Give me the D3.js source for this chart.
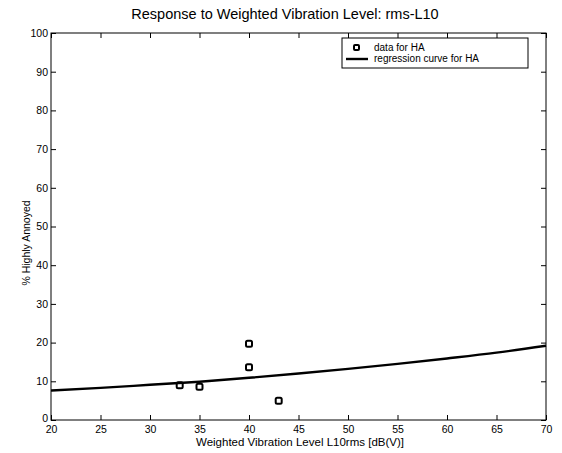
<!DOCTYPE html>
<html><head><meta charset="utf-8">
<script src="https://cdn.jsdelivr.net/npm/d3@7"></script>
<style>
html,body{margin:0;padding:0;background:#fff;}
svg{display:block;font-family:"Liberation Sans",Arial,sans-serif;}
</style></head>
<body>
<svg id="chart" width="562" height="453"></svg>
<script>
const title = "Response to Weighted Vibration Level: rms-L10";
const xLabel = "Weighted Vibration Level L10rms [dB(V)]";
const yLabel = "% Highly Annoyed";
const xTicks = [20,25,30,35,40,45,50,55,60,65,70];
const yTicks = [0,10,20,30,40,50,60,70,80,90,100];
// observed data for HA
const dataX = [33, 35, 40, 40, 43];
const dataY = [9.0, 8.6, 19.7, 13.6, 5.0];
// regression curve for HA
const curveX = [20,25,30,35,40,45,50,55,60,65,70];
const curveY = [7.6,8.3,9.1,9.9,10.9,12.0,13.2,14.5,15.9,17.4,19.2];
const legendLabels = ["data for HA","regression curve for HA"];

const svg = d3.select("#chart");
const m = {left:51, right:546, top:33, bottom:420};
const x = d3.scaleLinear().domain([20,70]).range([m.left,m.right]);
const y = d3.scaleLinear().domain([0,100]).range([m.bottom,m.top]);

svg.append("rect").attr("x",m.left).attr("y",m.top)
  .attr("width",m.right-m.left).attr("height",m.bottom-m.top)
  .attr("fill","none").attr("stroke","#000").attr("stroke-width",1);

const tk = 5;
const gxb = svg.append("g").attr("transform",`translate(0,${m.bottom})`)
  .call(d3.axisBottom(x).tickValues(xTicks).tickSizeInner(-tk).tickSizeOuter(0).tickPadding(4));
const gxt = svg.append("g").attr("transform",`translate(0,${m.top})`)
  .call(d3.axisTop(x).tickValues(xTicks).tickSizeInner(-tk).tickSizeOuter(0).tickFormat(""));
const gyl = svg.append("g").attr("transform",`translate(${m.left},0)`)
  .call(d3.axisLeft(y).tickValues(yTicks).tickSizeInner(-tk).tickSizeOuter(0).tickPadding(3));
const gyr = svg.append("g").attr("transform",`translate(${m.right},0)`)
  .call(d3.axisRight(y).tickValues(yTicks).tickSizeInner(-tk).tickSizeOuter(0).tickFormat(""));
[gxb,gxt,gyl,gyr].forEach(g=>{
  g.select(".domain").remove();
  g.selectAll("line").attr("stroke","#000");
  g.selectAll("text").attr("fill","#000").style("font-size","10.5px").style("font-family","Liberation Sans, Arial, sans-serif");
});
gxb.selectAll("text").attr("y",3).attr("dy","0.95em");
gyl.selectAll("text").attr("x",-3);
gyl.selectAll("text").filter(d=>d===0).attr("dy","0.1em");

svg.append("text").attr("x",285).attr("y",19)
  .attr("text-anchor","middle").style("font-size","14.5px").attr("fill","#000").text(title);
svg.append("text").attr("x",300).attr("y",446)
  .attr("text-anchor","middle").style("font-size","11.5px").attr("fill","#000").text(xLabel);
svg.append("text").attr("transform",`translate(30,243) rotate(-90)`)
  .attr("text-anchor","middle").style("font-size","10.5px").attr("fill","#000").text(yLabel);

const line = d3.line().x((d,i)=>x(curveX[i])).y((d,i)=>y(curveY[i])).curve(d3.curveMonotoneX);
svg.append("path").datum(curveY).attr("d",line)
  .attr("fill","none").attr("stroke","#000").attr("stroke-width",2.4);

const s = 6;
svg.selectAll("rect.pt").data(dataX).enter().append("rect").attr("class","pt")
  .attr("x",(d)=>x(d)-s/2).attr("y",(d,i)=>y(dataY[i])-s/2)
  .attr("width",s).attr("height",s).attr("rx",1.5)
  .attr("fill","none").attr("stroke","#000").attr("stroke-width",2);

// legend
const lg = svg.append("g");
const lx = 342, ly = 38, lw = 186, lh = 30;
lg.append("rect").attr("x",lx).attr("y",ly).attr("width",lw).attr("height",lh)
  .attr("fill","#fff").attr("stroke","#000").attr("stroke-width",1);
lg.append("rect").attr("x",lx+12).attr("y",ly+7).attr("width",5).attr("height",5).attr("rx",1)
  .attr("fill","none").attr("stroke","#000").attr("stroke-width",2);
lg.append("line").attr("x1",lx+4).attr("x2",lx+26).attr("y1",ly+21).attr("y2",ly+21)
  .attr("stroke","#000").attr("stroke-width",2.4);
lg.selectAll("text.lt").data(legendLabels).enter().append("text").attr("class","lt")
  .attr("x",lx+32).attr("y",(d,i)=>ly+13+i*11).style("font-size","10px").attr("fill","#000").text(d=>d);
</script>
</body></html>
